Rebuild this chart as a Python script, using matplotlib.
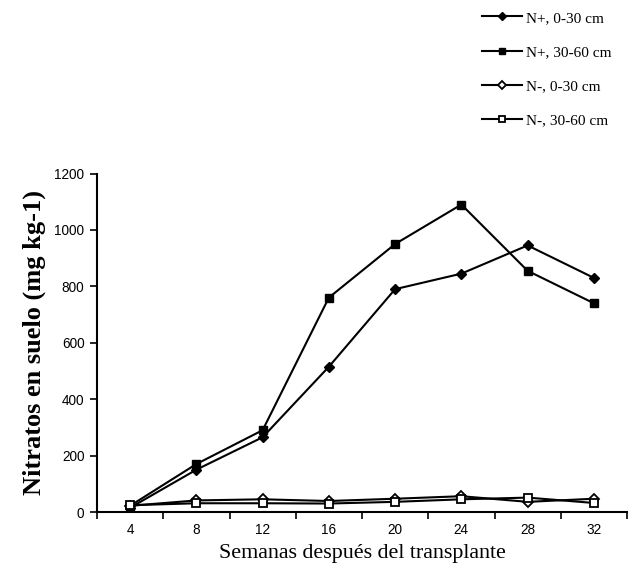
import numpy as np
import matplotlib
matplotlib.use("Agg")
import matplotlib.pyplot as plt

# weeks after transplant and soil nitrate (mg kg-1)
weeks = [4, 8, 12, 16, 20, 24, 28, 32]
n_plus_0_30 = [15, 150, 265, 515, 790, 845, 945, 830]
n_plus_30_60 = [22, 170, 290, 760, 950, 1090, 855, 740]
n_minus_0_30 = [22, 41, 45, 39, 47, 56, 36, 47]
n_minus_30_60 = [24, 31, 31, 30, 36, 45, 51, 32]

labels = ["N+, 0-30 cm", "N+, 30-60 cm", "N-, 0-30 cm", "N-, 30-60 cm"]
y_ticks = [0, 200, 400, 600, 800, 1000, 1200]

serif = "Liberation Serif"
sans = "Liberation Sans"

fig = plt.figure(figsize=(6.31, 5.71), dpi=100)
ax = fig.add_axes([97 / 631, 59 / 571, 530 / 631, 338.5 / 571])

h1, = ax.plot(weeks, n_plus_0_30, color="black", lw=1.5, marker="D", ms=5,
              mfc="black", mec="black")
h2, = ax.plot(weeks, n_plus_30_60, color="black", lw=1.5, marker="s", ms=5.8,
              mfc="black", mec="black")
h3, = ax.plot(weeks, n_minus_0_30, color="black", lw=1.5, marker="D", ms=5,
              mfc="white", mec="black", mew=1.3)
h4, = ax.plot(weeks, n_minus_30_60, color="black", lw=1.5, marker="s", ms=5.8,
              mfc="white", mec="black", mew=1.3)

ax.set_xlim(2, 34)
ax.set_ylim(0, 1200)

# category axis: ticks between categories, labels at the centres
ax.set_xticks(np.arange(2, 35, 4))
ax.set_xticklabels([])
ax.set_xticks(weeks, minor=True)
ax.set_xticklabels([str(w) for w in weeks], minor=True, family=sans, fontsize=9.8)
ax.tick_params(axis="x", which="major", direction="out", length=5, width=1.2)
ax.tick_params(axis="x", which="minor", length=0, pad=8)

ax.set_yticks(y_ticks)
ax.set_yticklabels([str(v) for v in y_ticks], family=sans, fontsize=9.8)
ax.tick_params(axis="y", direction="out", length=5, width=1.2, pad=4)

for side in ["top", "right"]:
    ax.spines[side].set_visible(False)
for side in ["left", "bottom"]:
    ax.spines[side].set_linewidth(1.5)

ax.set_xlabel("Semanas después del transplante", family=serif, fontsize=15.8,
              labelpad=5)
ax.set_ylabel("Nitratos en suelo (mg kg-1)", family=serif, fontsize=19,
              fontweight="bold", labelpad=6)

fig.legend([h1, h2, h3, h4], labels, loc="upper left",
           bbox_to_anchor=(482 / 631, 1 - 11 / 571), frameon=False,
           prop={"family": serif, "size": 11}, labelspacing=1.35,
           handlelength=2.6, handletextpad=0.3, borderpad=0, borderaxespad=0,
           markerscale=0.85)

fig.savefig("out.png", dpi=100)
